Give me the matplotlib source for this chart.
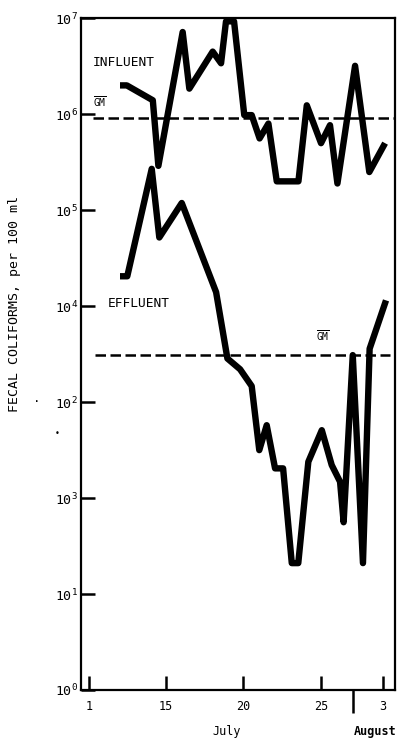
import matplotlib
matplotlib.use('Agg')
import matplotlib.pyplot as plt
import matplotlib.transforms as mtransforms
from matplotlib.ticker import FixedLocator, FixedFormatter, NullLocator

plt.rcParams['font.family'] = ['DejaVu Sans Mono', 'DejaVu Sans']
plt.rcParams['mathtext.default'] = 'regular'

# ---- data (x in day-position units of the drawn axis) ----
inf_day = [12.02, 12.46, 14.14, 14.50, 16.07, 16.50, 18.01, 18.55, 18.87, 19.39,
           20.05, 20.53, 21.04, 21.61, 22.15, 23.55, 24.09, 25.01, 25.59, 26.07,
           27.21, 28.13, 29.15]
inf_val = [2.0e6, 2.0e6, 1.4e6, 2.9e5, 7.2e6, 1.85e6, 4.5e6, 3.4e6, 9.3e6, 9.3e6,
           9.8e5, 9.8e5, 5.6e5, 8.0e5, 2.0e5, 2.0e5, 1.24e6, 5.0e5, 7.7e5, 1.9e5,
           3.2e6, 2.5e5, 5.0e5]

eff_day = [12.02, 12.49, 14.07, 14.56, 16.01, 18.23, 18.96, 19.78, 20.53, 21.02,
           21.50, 22.04, 22.56, 23.12, 23.54, 24.19, 25.06, 25.70, 26.24, 26.47,
           27.06, 27.72, 28.15, 29.21]
eff_val = [2.05e4, 2.05e4, 2.7e5, 5.2e4, 1.19e5, 1.4e4, 2.85e3, 2.2e3, 1.47e3, 316,
           575, 204, 204, 21, 21, 239, 510, 221, 148, 56,
           3.09e3, 21, 3.6e3, 1.15e4]

inf_gm = 9.1e5
eff_gm = 3.1e3
inf_gm_span = (10.28, 29.79)
eff_gm_span = (10.41, 29.47)

xtick_pos = [10, 15, 20, 25, 29]
xtick_labels = ['1', '15', '20', '25', '3']
month_split = 27.1
months = [('July', 18.94), ('August', 28.5)]

ytick_pos = [1e0, 1e1, 1e2, 1e3, 1e4, 1e5, 1e6, 1e7]
ytick_labels = ['$10^{0}$', '$10^{1}$', '$10^{3}$', '$10^{2}$',
                '$10^{4}$', '$10^{5}$', '$10^{6}$', '$10^{7}$']

# ---- figure ----
fig = plt.figure(figsize=(4.05, 7.42), dpi=100)
ax = fig.add_axes([0.2, 0.0701, 0.7753, 0.9052])
ax.set_yscale('log')
ax.set_ylim(1, 1e7)
ax.set_xlim(9.5, 29.79)

ax.plot(inf_day, inf_val, color='black', lw=4.6, solid_joinstyle='round', solid_capstyle='butt')
ax.plot(eff_day, eff_val, color='black', lw=4.6, solid_joinstyle='round', solid_capstyle='butt')

ax.hlines(inf_gm, *inf_gm_span, colors='black', lw=1.8, linestyles=(0, (4.2, 1.8)))
ax.hlines(eff_gm, *eff_gm_span, colors='black', lw=1.8, linestyles=(0, (4.2, 1.8)))

ax.yaxis.set_major_locator(FixedLocator(ytick_pos))
ax.yaxis.set_major_formatter(FixedFormatter(ytick_labels))
ax.yaxis.set_minor_locator(NullLocator())
ax.xaxis.set_major_locator(FixedLocator(xtick_pos))
ax.xaxis.set_major_formatter(FixedFormatter(xtick_labels))
ax.xaxis.set_minor_locator(FixedLocator([month_split]))

ax.tick_params(axis='y', which='major', direction='in', length=10, width=1.8,
               labelsize=9.5, pad=2)
ax.tick_params(axis='x', which='major', direction='in', length=10, width=1.8,
               labelsize=8.5, pad=7)
ax.tick_params(axis='x', which='minor', direction='out', length=16.5, width=1.8)

for s in ax.spines.values():
    s.set_linewidth(1.6)

ax.set_ylabel('FECAL COLIFORMS, per 100 ml', fontsize=9.5)
ax.yaxis.set_label_coords(-0.19, 0.575)

trans = mtransforms.blended_transform_factory(ax.transData, ax.transAxes)
for name, xpos in months:
    ax.text(xpos, -0.0625, name, transform=trans, ha='center', va='center',
            fontsize=8.5, fontweight='bold' if name == 'August' else 'normal')

ax.text(10.28, 3.5e6, 'INFLUENT', ha='left', va='center', fontsize=9.3)
ax.text(10.28, 1.36e6, r'$\overline{GM}$', ha='left', va='center', fontsize=7)
ax.text(11.25, 1.07e4, 'EFFLUENT', ha='left', va='center', fontsize=9.3)
ax.text(24.69, 4.9e3, r'$\overline{GM}$', ha='left', va='center', fontsize=7)

fig.text(37 / 405, 1 - 398 / 742, '.', ha='center', va='center', fontsize=9)
fig.text(57 / 405, 1 - 433 / 742, '\u2022', ha='center', va='center', fontsize=6)

fig.savefig('out.png', dpi=100)
